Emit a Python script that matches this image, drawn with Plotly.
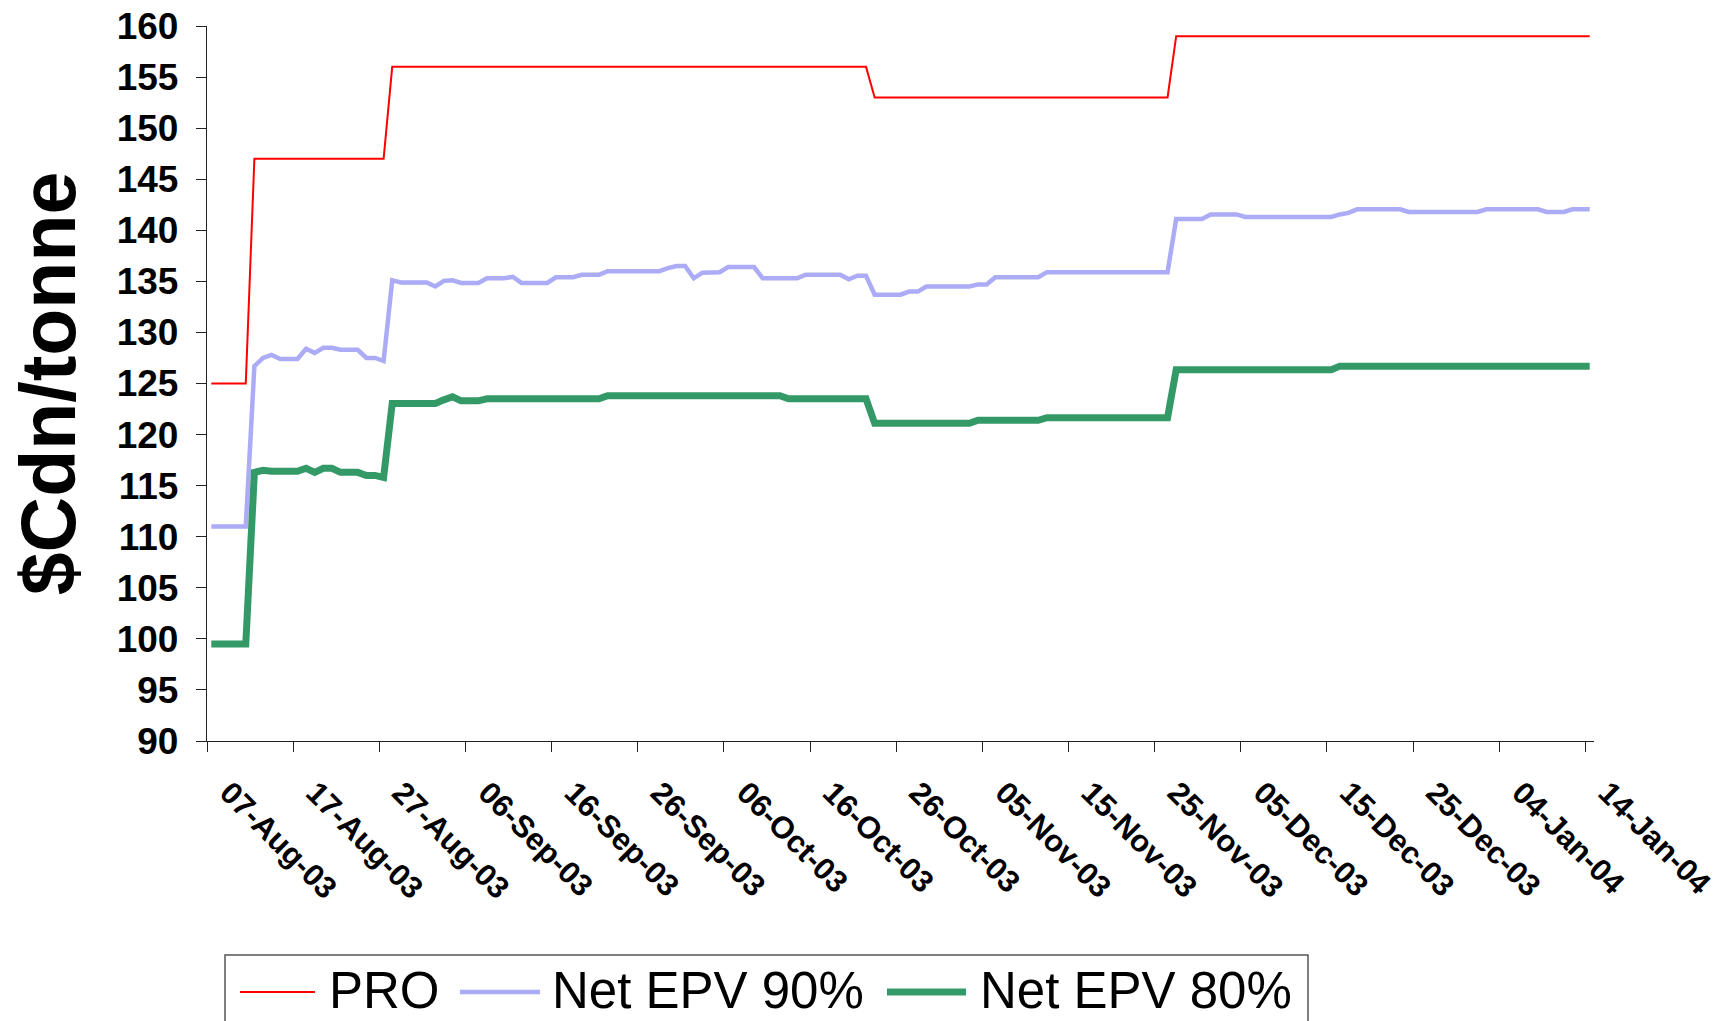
import plotly.graph_objects as go
import pandas as pd

# ---------------- data ----------------
start_date = "2003-08-07"
end_date = "2004-01-14"
dates = pd.date_range(start_date, end_date, freq="D")   # daily observations

series_names = ["PRO", "Net EPV 90%", "Net EPV 80%"]

pro = [
    125, 125, 125, 125, 125, 147, 147, 147, 147, 147,
    147, 147, 147, 147, 147, 147, 147, 147, 147, 147,
    147, 156, 156, 156, 156, 156, 156, 156, 156, 156,
    156, 156, 156, 156, 156, 156, 156, 156, 156, 156,
    156, 156, 156, 156, 156, 156, 156, 156, 156, 156,
    156, 156, 156, 156, 156, 156, 156, 156, 156, 156,
    156, 156, 156, 156, 156, 156, 156, 156, 156, 156,
    156, 156, 156, 156, 156, 156, 156, 153, 153, 153,
    153, 153, 153, 153, 153, 153, 153, 153, 153, 153,
    153, 153, 153, 153, 153, 153, 153, 153, 153, 153,
    153, 153, 153, 153, 153, 153, 153, 153, 153, 153,
    153, 153, 159, 159, 159, 159, 159, 159, 159, 159,
    159, 159, 159, 159, 159, 159, 159, 159, 159, 159,
    159, 159, 159, 159, 159, 159, 159, 159, 159, 159,
    159, 159, 159, 159, 159, 159, 159, 159, 159, 159,
    159, 159, 159, 159, 159, 159, 159, 159, 159, 159,
    159,
]

net_epv_90 = [
    111.0, 111.0, 111.0, 111.0, 111.0, 126.7, 127.5, 127.8, 127.4, 127.4,
    127.4, 128.4, 128.0, 128.5, 128.5, 128.3, 128.3, 128.3, 127.5, 127.5,
    127.2, 135.1, 134.9, 134.9, 134.9, 134.9, 134.5, 135.05, 135.1, 134.85,
    134.85, 134.85, 135.3, 135.3, 135.3, 135.45, 134.85, 134.85, 134.85, 134.85,
    135.4, 135.4, 135.4, 135.65, 135.65, 135.65, 136.0, 136.0, 136.0, 136.0,
    136.0, 136.0, 136.0, 136.3, 136.5, 136.5, 135.3, 135.85, 135.9, 135.9,
    136.4, 136.4, 136.4, 136.4, 135.3, 135.3, 135.3, 135.3, 135.3, 135.65,
    135.65, 135.65, 135.65, 135.65, 135.2, 135.55, 135.55, 133.7, 133.7, 133.7,
    133.7, 134.0, 134.0, 134.5, 134.5, 134.5, 134.5, 134.5, 134.5, 134.7,
    134.7, 135.4, 135.4, 135.4, 135.4, 135.4, 135.4, 135.9, 135.9, 135.9,
    135.9, 135.9, 135.9, 135.9, 135.9, 135.9, 135.9, 135.9, 135.9, 135.9,
    135.9, 135.9, 141.1, 141.1, 141.1, 141.1, 141.55, 141.55, 141.55, 141.55,
    141.3, 141.3, 141.3, 141.3, 141.3, 141.3, 141.3, 141.3, 141.3, 141.3,
    141.3, 141.55, 141.7, 142.05, 142.05, 142.05, 142.05, 142.05, 142.05, 141.8,
    141.8, 141.8, 141.8, 141.8, 141.8, 141.8, 141.8, 141.8, 142.05, 142.05,
    142.05, 142.05, 142.05, 142.05, 142.05, 141.8, 141.8, 141.8, 142.05, 142.05,
    142.05,
]

net_epv_80 = [
    99.5, 99.5, 99.5, 99.5, 99.5, 116.3, 116.5, 116.4, 116.4, 116.4,
    116.4, 116.7, 116.3, 116.7, 116.7, 116.3, 116.3, 116.3, 116.0, 116.0,
    115.8, 123.05, 123.05, 123.05, 123.05, 123.05, 123.05, 123.4, 123.7, 123.3,
    123.3, 123.3, 123.5, 123.5, 123.5, 123.5, 123.5, 123.5, 123.5, 123.5,
    123.5, 123.5, 123.5, 123.5, 123.5, 123.5, 123.8, 123.8, 123.8, 123.8,
    123.8, 123.8, 123.8, 123.8, 123.8, 123.8, 123.8, 123.8, 123.8, 123.8,
    123.8, 123.8, 123.8, 123.8, 123.8, 123.8, 123.8, 123.5, 123.5, 123.5,
    123.5, 123.5, 123.5, 123.5, 123.5, 123.5, 123.5, 121.1, 121.1, 121.1,
    121.1, 121.1, 121.1, 121.1, 121.1, 121.1, 121.1, 121.1, 121.1, 121.4,
    121.4, 121.4, 121.4, 121.4, 121.4, 121.4, 121.4, 121.65, 121.65, 121.65,
    121.65, 121.65, 121.65, 121.65, 121.65, 121.65, 121.65, 121.65, 121.65, 121.65,
    121.65, 121.65, 126.35, 126.35, 126.35, 126.35, 126.35, 126.35, 126.35, 126.35,
    126.35, 126.35, 126.35, 126.35, 126.35, 126.35, 126.35, 126.35, 126.35, 126.35,
    126.35, 126.7, 126.7, 126.7, 126.7, 126.7, 126.7, 126.7, 126.7, 126.7,
    126.7, 126.7, 126.7, 126.7, 126.7, 126.7, 126.7, 126.7, 126.7, 126.7,
    126.7, 126.7, 126.7, 126.7, 126.7, 126.7, 126.7, 126.7, 126.7, 126.7,
    126.7,
]

y_ticks = [90, 95, 100, 105, 110, 115, 120, 125, 130, 135, 140, 145, 150, 155, 160]
y_title = "$Cdn/tonne"

assert len(pro) == len(net_epv_90) == len(net_epv_80) == len(dates)

# ---------------- styles ----------------
FONT = "Liberation Sans, Arial, Helvetica, sans-serif"
styles = [
    dict(color="#FF0000", width=2),
    dict(color="#ABABF6", width=4.5),
    dict(color="#339966", width=7),
]
values = [pro, net_epv_90, net_epv_80]

W, H = 1730, 1021
PL, PT, PR, PB = 207, 26, 136, 280
PW, PH = W - PL - PR, H - PT - PB


def fx(px):
    return (px - PL) / PW


def fy(py):
    return (PT + PH - py) / PH


# points sit in the middle of each day on the date axis
x_pos = dates + pd.Timedelta(hours=12)

fig = go.Figure()
for name, vals, st in zip(series_names, values, styles):
    fig.add_trace(go.Scatter(
        x=x_pos, y=vals, mode="lines", name=name,
        line=dict(color=st["color"], width=st["width"]),
        showlegend=False,
    ))

axis_col = "#222222"
fig.update_layout(
    width=W, height=H,
    margin=dict(l=PL, r=PR, t=PT, b=PB, autoexpand=False),
    paper_bgcolor="white", plot_bgcolor="white",
    font=dict(family=FONT, color="black"),
    xaxis=dict(
        type="date",
        range=[start_date, "2004-01-15"],
        tick0=start_date, dtick=10 * 24 * 3600 * 1000,
        tickformat="%d-%b-%y", tickangle=45,
        tickfont=dict(family=FONT, size=31, color="black", weight="bold"),
        ticks="outside", ticklen=10, tickwidth=1.3, tickcolor=axis_col,
        showline=True, linecolor=axis_col, linewidth=1.3,
        showgrid=False, zeroline=False,
        ticklabelshift=22, ticklabelstandoff=10,
    ),
    yaxis=dict(
        range=[90, 160], tickvals=y_ticks,
        tickfont=dict(family=FONT, size=37, color="black", weight="bold"),
        ticks="outside", ticklen=10, tickwidth=1.3, tickcolor=axis_col,
        showline=True, linecolor=axis_col, linewidth=1.3,
        showgrid=False, zeroline=False,
        ticklabelstandoff=10,
        title=dict(text=y_title, standoff=15,
                   font=dict(family=FONT, size=77, color="black", weight="bold")),
    ),
)

# ---------------- legend (drawn to match the reference's long line samples) ----------------
leg_box = (225, 955, 1308, 1050)
leg_items = [(240, 315, 327), (460, 540, 550), (887, 966, 978)]
leg_y = 990
shapes = [dict(type="rect", xref="paper", yref="paper",
               x0=fx(leg_box[0]), x1=fx(leg_box[2]), y0=fy(leg_box[1]), y1=fy(leg_box[3]),
               line=dict(color="#555555", width=1.5), fillcolor="rgba(0,0,0,0)")]
annotations = []
for (lx0, lx1, tx), name, st in zip(leg_items, series_names, styles):
    shapes.append(dict(type="line", xref="paper", yref="paper",
                       x0=fx(lx0), x1=fx(lx1), y0=fy(leg_y + 2), y1=fy(leg_y + 2),
                       line=dict(color=st["color"], width=st["width"])))
    annotations.append(dict(xref="paper", yref="paper", x=fx(tx), y=fy(leg_y),
                            xanchor="left", yanchor="middle", showarrow=False,
                            text=name, font=dict(family=FONT, size=51, color="black")))
fig.update_layout(shapes=shapes, annotations=annotations)

fig.write_html("out.html", config={"displayModeBar": False},
               post_script="document.body.style.margin='0';")
